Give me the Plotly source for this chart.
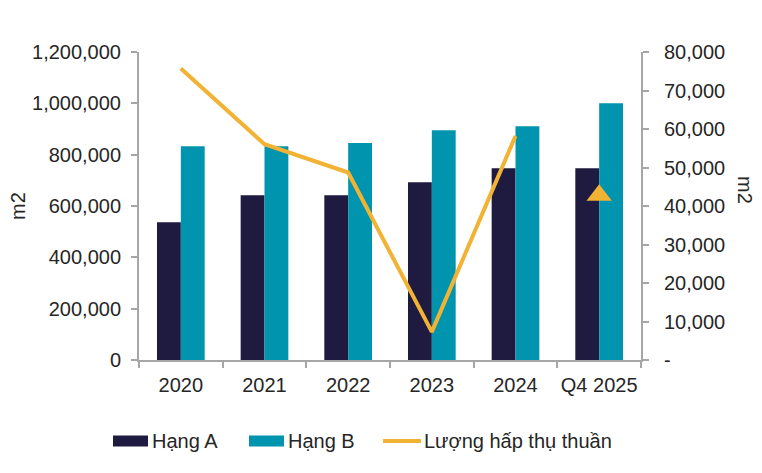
import plotly.graph_objects as go

# data
categories = ["2020", "2021", "2022", "2023", "2024", "Q4 2025"]
hang_a = [537000, 642000, 642000, 693000, 747000, 747000]
hang_b = [833000, 833000, 845000, 895000, 911000, 1000000]
hap_thu = [75700, 56050, 48700, 7300, 58200, None]
hap_thu_q4 = [None, None, None, None, None, 42800]

left_ticks = [0, 200000, 400000, 600000, 800000, 1000000, 1200000]
left_labels = ["0", "200,000", "400,000", "600,000", "800,000", "1,000,000", "1,200,000"]
right_ticks = [0, 10000, 20000, 30000, 40000, 50000, 60000, 70000, 80000]
right_labels = ["-", "10,000", "20,000", "30,000", "40,000", "50,000", "60,000", "70,000", "80,000"]

c_a = "#1E1A40"
c_b = "#0094AE"
c_line = "#F2B233"
c_axis = "#A6A6A6"
c_text = "#262626"
FONT = "Liberation Sans"
FS = 20

# page has an 8px body margin, so work in screen pixels and shift back
OFF = 8
W, H = 762 - OFF, 473 - OFF
L, R, T, B = 139 - OFF, 641 - OFF, 52 - OFF, 360 - OFF


def px(x):
    return (x - OFF - L) / (R - L)


def py(y):
    return (B - (y - OFF)) / (B - T)


def label(text, x, y, angle=0, anchor="left"):
    fig.add_annotation(text=text, xref="paper", yref="paper", x=px(x), y=py(y), textangle=angle,
                       xanchor=anchor, yanchor="middle", showarrow=False, font=dict(size=FS))


fig = go.Figure()
fig.add_trace(go.Bar(x=categories, y=hang_a, name="Hạng A", marker=dict(color=c_a, line=dict(width=0))))
fig.add_trace(go.Bar(x=categories, y=hang_b, name="Hạng B", marker=dict(color=c_b, line=dict(width=0))))
fig.add_trace(go.Scatter(x=categories, y=hap_thu, name="Lượng hấp thụ thuần", yaxis="y2",
                         mode="lines", line=dict(color=c_line, width=4)))
fig.add_trace(go.Scatter(x=categories, y=hap_thu_q4, yaxis="y2", mode="markers",
                         marker=dict(symbol="triangle-up", size=22, color=c_line)))

fig.update_layout(
    width=W, height=H,
    margin=dict(l=L, r=W - R, t=T, b=H - B, autoexpand=False),
    plot_bgcolor="white", paper_bgcolor="white",
    font=dict(family=FONT, size=FS, color=c_text),
    barmode="group", bargap=0.43, bargroupgap=0,
    showlegend=False,
    xaxis=dict(showline=True, linecolor=c_axis, linewidth=2, ticks="outside", tickson="boundaries",
               ticklen=6, tickcolor=c_axis, tickwidth=2, showgrid=False, ticklabelstandoff=6,
               tickangle=0),
    yaxis=dict(range=[0, 1200000], tickvals=left_ticks, ticktext=left_labels, showline=True,
               linecolor=c_axis, linewidth=2, ticks="outside", ticklen=6, tickcolor=c_axis,
               tickwidth=2, showgrid=False, zeroline=False, ticklabelstandoff=6),
    yaxis2=dict(range=[0, 80000], tickvals=right_ticks, ticktext=right_labels, overlaying="y",
                side="right", showline=True, linecolor=c_axis, linewidth=2, ticks="outside",
                ticklen=6, tickcolor=c_axis, tickwidth=2, showgrid=False, zeroline=False,
                ticklabelstandoff=11),
)

# axis titles
label("m2", 18, 206, angle=-90, anchor="center")
label("m2", 745, 190, angle=90, anchor="center")

# legend drawn by hand to get the wide swatches
ly = 441
fig.add_shape(type="rect", xref="paper", yref="paper", x0=px(113), x1=px(148), y0=py(446.5), y1=py(435.5),
              fillcolor=c_a, line=dict(width=0))
label("Hạng A", 150, ly)
fig.add_shape(type="rect", xref="paper", yref="paper", x0=px(249), x1=px(284), y0=py(446.5), y1=py(435.5),
              fillcolor=c_b, line=dict(width=0))
label("Hạng B", 286, ly)
fig.add_shape(type="line", xref="paper", yref="paper", x0=px(383), x1=px(421), y0=py(ly), y1=py(ly),
              line=dict(color=c_line, width=4))
label("Lượng hấp thụ thuần", 422, ly)

fig.write_html("out.html")
